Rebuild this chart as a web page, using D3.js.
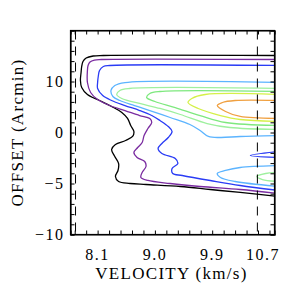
<!DOCTYPE html>
<html>
<head>
<meta charset="utf-8">
<script src="https://cdn.jsdelivr.net/npm/d3@7"></script>
<style>
  html, body { margin: 0; padding: 0; background: #fff; }
  text { font-family: "Liberation Serif", "DejaVu Serif", serif; fill: #000; }
</style>
</head>
<body>
<div id="graph"></div>
<script>
// velocity ticks (km/s) and offset ticks; the offset labels are not linear in the original
var xTickValues = [8.1, 9.0, 9.9, 10.7];
var xTickLabels = ["8.1", "9.0", "9.9", "10.7"];
var yTickValues = [10, 0, -10, -20];
var yTickLabels = ["10", "0", "-5", "-10"];

// dashed marker velocities
var dashVel = [7.753, 10.61];

// contour levels, outer to inner: [velocity, offset]
var levelBlack = [[10.95,15.1],[8.19,15.1],[8.03,15.0],[7.92,14.61],[7.87,13.92],[7.85,12.94],[7.84,11.76],[7.83,10.2],[7.85,8.82],[7.94,7.45],[8.13,6.27],[8.32,5.1],[8.48,3.92],[8.57,2.75],[8.62,1.37],[8.67,0.2],[8.65,-0.78],[8.54,-1.57],[8.38,-2.35],[8.32,-3.33],[8.37,-4.71],[8.43,-6.08],[8.42,-7.45],[8.38,-8.63],[8.43,-9.61],[8.61,-10.0],[8.86,-10.2],[9.4,-10.59],[9.87,-11.18],[10.34,-11.76],[10.95,-12.55]];
var levelPurple = [[10.95,14.31],[8.16,14.31],[8.05,14.2],[7.98,13.82],[7.95,13.14],[7.94,12.16],[7.94,9.8],[7.99,7.84],[8.1,6.47],[8.29,5.29],[8.53,4.31],[8.76,3.33],[8.92,2.75],[8.95,1.96],[8.89,0.78],[8.83,-0.59],[8.8,-1.96],[8.73,-2.94],[8.67,-3.92],[8.72,-4.9],[8.84,-5.69],[8.86,-6.67],[8.8,-7.84],[8.78,-8.82],[8.89,-9.41],[9.24,-10.0],[9.71,-10.59],[10.34,-11.18],[10.95,-11.96]];
var levelBlue = [[10.95,13.14],[8.29,13.14],[8.19,12.94],[8.13,12.16],[8.11,10.98],[8.1,9.8],[8.1,8.63],[8.18,7.25],[8.32,6.27],[8.53,5.29],[8.76,4.31],[8.95,3.33],[9.08,2.35],[9.21,1.18],[9.27,0.2],[9.21,-0.98],[9.11,-2.16],[9.05,-3.14],[9.11,-4.12],[9.32,-5.1],[9.36,-6.08],[9.27,-7.06],[9.28,-8.04],[9.43,-8.43],[9.87,-9.41],[10.34,-10.39],[10.95,-11.37]];
var levelBlueSpur = [[10.95,-3.73],[10.5,-4.51],[10.95,-4.9]];
var levelCyan = [[10.95,9.8],[8.53,9.8],[8.37,9.22],[8.31,8.24],[8.34,7.06],[8.45,6.27],[8.68,5.29],[8.92,4.31],[9.24,2.94],[9.55,1.57],[9.71,0.39],[9.84,-0.78],[10.03,-0.98],[10.34,-0.78],[10.95,-0.59]];
var levelCyanLow = [[10.95,-6.47],[10.34,-6.86],[10.11,-7.45],[9.98,-8.04],[10.03,-8.82],[10.26,-9.61],[10.95,-10.59]];
var levelPaleGreen = [[10.95,8.63],[8.6,8.63],[8.45,8.24],[8.4,7.45],[8.48,6.67],[8.76,5.69],[9.08,4.71],[9.4,3.53],[9.82,1.76],[10.18,0.98],[10.95,0.59]];
var levelPaleGreenLow = [[10.95,-7.84],[10.74,-8.04],[10.6,-8.63],[10.69,-9.22],[10.95,-9.61]];
var levelGreen = [[10.95,8.04],[9.08,8.04],[8.92,7.65],[8.87,6.86],[9.0,6.08],[9.32,4.9],[9.71,3.33],[10.11,1.96],[10.95,1.37]];
var levelYellow = [[10.95,7.45],[9.79,7.45],[9.58,6.67],[9.52,5.88],[9.68,4.71],[10.03,3.33],[10.34,2.55],[10.95,2.16]];
var levelOrange = [[10.95,6.27],[10.26,6.27],[10.06,5.88],[9.98,5.29],[10.11,4.12],[10.34,3.14],[10.95,2.75]];

var contours = [
  {pts: levelBlack, color: "#000000"},
  {pts: levelPurple, color: "#7a2ca0"},
  {pts: levelBlue, color: "#2a3cf5"},
  {pts: levelBlueSpur, color: "#2a3cf5"},
  {pts: levelCyan, color: "#5cb4ff"},
  {pts: levelCyanLow, color: "#5cb4ff"},
  {pts: levelPaleGreen, color: "#9ef09e"},
  {pts: levelPaleGreenLow, color: "#9ef09e"},
  {pts: levelGreen, color: "#7ee87e"},
  {pts: levelYellow, color: "#d4f048"},
  {pts: levelOrange, color: "#f0a040"}
];

var margin = {top: 30.5, right: 18.5, bottom: 58.5, left: 70.5},
    W = 293, H = 293,
    w = W - margin.left - margin.right,
    h = H - margin.top - margin.bottom;

var x = d3.scaleLinear().domain([7.674, 10.879]).range([0, w]);
var y = d3.scaleLinear().domain([20, -20]).range([0, h]);

var svg = d3.select("#graph").append("svg")
    .attr("width", W)
    .attr("height", H)
    .append("g")
    .attr("transform", "translate(" + margin.left + "," + margin.top + ")");

svg.append("defs").append("clipPath").attr("id", "clip")
    .append("rect").attr("width", w).attr("height", h);

var line = d3.line()
    .x(function(d) { return x(d[0]); })
    .y(function(d) { return y(d[1]); })
    .curve(d3.curveCatmullRom.alpha(0.5));

var plot = svg.append("g").attr("clip-path", "url(#clip)");

plot.selectAll(".contour")
    .data(contours)
    .enter().append("path")
    .attr("class", "contour")
    .attr("d", function(d) { return line(d.pts); })
    .attr("fill", "none")
    .attr("stroke", function(d) { return d.color; })
    .attr("stroke-width", 1.3);

plot.selectAll(".dash")
    .data(dashVel)
    .enter().append("line")
    .attr("class", "dash")
    .attr("x1", function(d) { return x(d); })
    .attr("x2", function(d) { return x(d); })
    .attr("y1", 0)
    .attr("y2", h)
    .attr("stroke", "#000")
    .attr("stroke-width", 1)
    .attr("stroke-dasharray", "9,7");

// minor ticks every 0.18 km/s and every 2 offset units
var xMinor = d3.range(7.74, 10.88, 0.18);
var yMinor = d3.range(-20, 20.01, 2);

var xBottom = d3.axisBottom(x).tickValues(xMinor).tickSize(-4).tickFormat("");
var xTop = d3.axisTop(x).tickValues(xMinor).tickSize(-4).tickFormat("");
var yLeft = d3.axisLeft(y).tickValues(yMinor).tickSize(-4).tickFormat("");
var yRight = d3.axisRight(y).tickValues(yMinor).tickSize(-4).tickFormat("");

svg.append("g").attr("transform", "translate(0," + h + ")").call(xBottom);
svg.append("g").call(xTop);
svg.append("g").call(yLeft);
svg.append("g").attr("transform", "translate(" + w + ",0)").call(yRight);

svg.selectAll(".domain").attr("stroke", "#000").attr("stroke-width", 1.2);
svg.selectAll(".tick line").attr("stroke", "#000");

// frame
svg.append("rect").attr("width", w).attr("height", h)
    .attr("fill", "none").attr("stroke", "#000").attr("stroke-width", 1.2);

// tick labels
svg.selectAll(".xlab")
    .data(xTickValues)
    .enter().append("text")
    .attr("class", "xlab")
    .attr("x", function(d) { return x(d); })
    .attr("y", h + 25)
    .attr("text-anchor", "middle")
    .style("font-size", "16px")
    .style("letter-spacing", "1.5px")
    .text(function(d, i) { return xTickLabels[i]; });

svg.selectAll(".ylab")
    .data(yTickValues)
    .enter().append("text")
    .attr("class", "ylab")
    .attr("x", -6)
    .attr("y", function(d) { return y(d); })
    .attr("dy", "0.35em")
    .attr("text-anchor", "end")
    .style("font-size", "16px")
    .style("letter-spacing", "1.5px")
    .text(function(d, i) { return yTickLabels[i].replace("-", "\u2212"); });

svg.append("text")
    .attr("x", w / 2 - 1)
    .attr("y", h + 44)
    .attr("text-anchor", "middle")
    .style("font-size", "17px")
    .style("letter-spacing", "1.3px")
    .text("VELOCITY (km/s)");

svg.append("text")
    .attr("transform", "translate(" + (-48) + "," + (h / 2) + ") rotate(-90)")
    .attr("text-anchor", "middle")
    .style("font-size", "17px")
    .style("letter-spacing", "1.3px")
    .text("OFFSET (Arcmin)");
</script>
</body>
</html>
